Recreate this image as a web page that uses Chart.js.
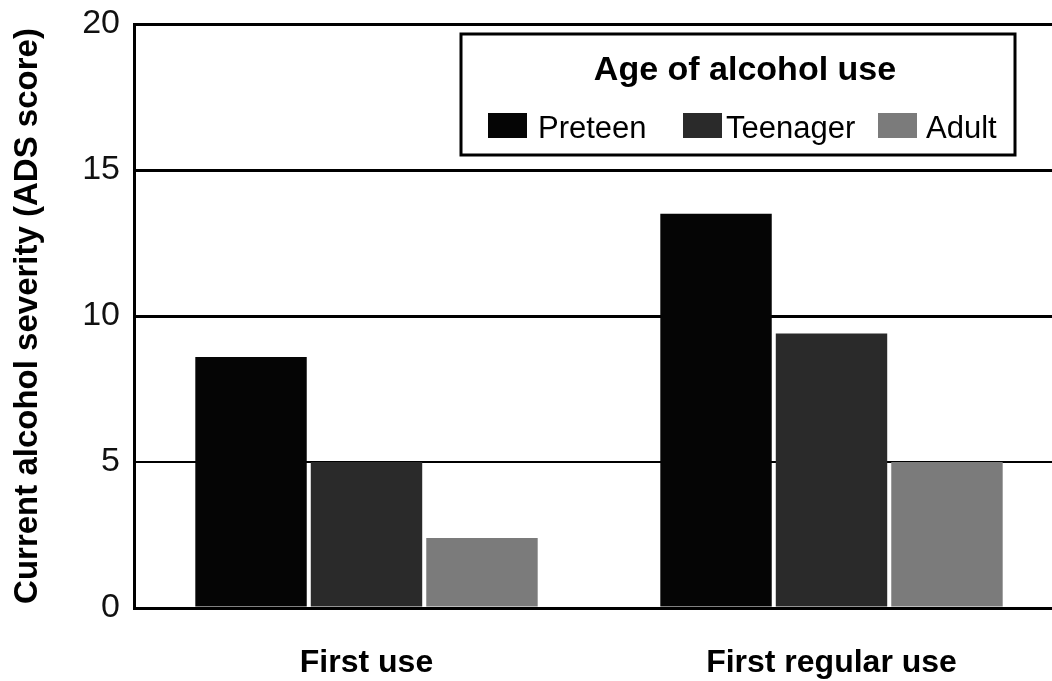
<!DOCTYPE html>
<html>
<head>
<meta charset="utf-8">
<script src="https://cdn.jsdelivr.net/npm/chart.js@4.4.0/dist/chart.umd.min.js"></script>
<style>
    html, body { margin: 0; padding: 0; background: #fff; overflow: hidden; }
    #wrap { width: 1075px; height: 681px; position: relative; }
</style>
</head>
<body>
<div id="wrap"><canvas id="alcoholChart"></canvas></div>
<script>
const categories = ['First use', 'First regular use'];
const seriesNames = ['Preteen', 'Teenager', 'Adult'];
const preteenValues = [8.6, 13.5];
const teenagerValues = [5.0, 9.4];
const adultValues = [2.4, 5.0];
const yTicks = [0, 5, 10, 15, 20];

const barColors = ['#050505', '#2a2a2a', '#7b7b7b'];
const sans = '"Liberation Sans", Arial, sans-serif';

// boxed legend like the printed figure
const boxLegend = {
    id: 'boxLegend',
    afterDraw(chart) {
        const ctx = chart.ctx;
        ctx.save();
        ctx.fillStyle = '#fff';
        ctx.fillRect(461, 34, 554, 121);
        ctx.strokeStyle = '#000';
        ctx.lineWidth = 3;
        ctx.strokeRect(461, 34, 554, 121);

        ctx.fillStyle = '#000';
        ctx.font = 'bold 34px ' + sans;
        ctx.textAlign = 'center';
        ctx.textBaseline = 'alphabetic';
        ctx.fillText('Age of alcohol use', 745, 80);

        const swatchX = [488, 683, 878];
        const textX = [538, 726, 926];
        ctx.font = '31px ' + sans;
        ctx.textAlign = 'left';
        chart.data.datasets.forEach((ds, i) => {
            ctx.fillStyle = ds.backgroundColor;
            ctx.fillRect(swatchX[i], 113, 39, 25);
            ctx.fillStyle = '#000';
            ctx.fillText(ds.label, textX[i], 138);
        });
        ctx.restore();
    }
};

new Chart(document.getElementById('alcoholChart'), {
    type: 'bar',
    data: {
        labels: categories,
        datasets: [
            { label: seriesNames[0], data: preteenValues, backgroundColor: barColors[0] },
            { label: seriesNames[1], data: teenagerValues, backgroundColor: barColors[1] },
            { label: seriesNames[2], data: adultValues, backgroundColor: barColors[2] }
        ]
    },
    options: {
        responsive: true,
        maintainAspectRatio: false,
        animation: false,
        devicePixelRatio: 1,
        categoryPercentage: 0.745,
        barPercentage: 0.965,
        layout: { padding: { top: 24, right: 11, bottom: 0, left: 0 } },
        plugins: {
            legend: { display: false },
            tooltip: { enabled: false }
        },
        scales: {
            x: {
                grid: { display: false },
                border: { display: true, color: '#000', width: 3 },
                ticks: {
                    color: '#000',
                    font: { family: sans, size: 32, weight: 'bold' },
                    padding: 28
                },
                afterFit: s => { s.height = 73; }
            },
            y: {
                min: 0,
                max: 20,
                afterBuildTicks: s => { s.ticks = yTicks.map(v => ({ value: v })); },
                grid: {
                    color: '#000',
                    lineWidth: c => (c.tick && c.tick.value === 5 ? 2 : 3),
                    drawTicks: false
                },
                border: { display: true, color: '#000', width: 3 },
                ticks: {
                    color: '#111',
                    font: { family: sans, size: 34 },
                    padding: 14
                },
                title: {
                    display: true,
                    text: 'Current alcohol severity (ADS score)',
                    color: '#000',
                    font: { family: sans, size: 33, weight: 'bold' },
                    padding: { top: 8, bottom: 0 }
                },
                afterFit: s => {
                    s.width = 134;
                    s.paddingTop = 0;
                    s.paddingBottom = 0;
                }
            }
        }
    },
    plugins: [boxLegend]
});
</script>
</body>
</html>
